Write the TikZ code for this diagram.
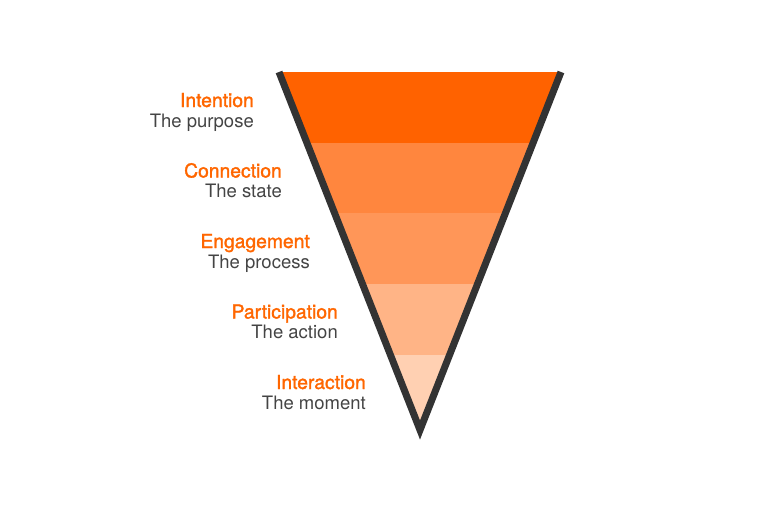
\documentclass[tikz,border=0pt]{standalone}
\usepackage{fontspec}
\setmainfont{TeX Gyre Heros}
\newfontfamily\medfont[FakeBold=1.5]{TeX Gyre Heros}
\definecolor{band1}{RGB}{255,98,0}
\definecolor{band2}{RGB}{255,134,62}
\definecolor{band3}{RGB}{255,150,88}
\definecolor{band4}{RGB}{255,180,134}
\definecolor{band5}{RGB}{255,208,178}
\definecolor{labelorange}{RGB}{255,102,0}
\definecolor{labelgray}{RGB}{68,68,68}
\definecolor{edgegray}{RGB}{51,51,51}
\begin{document}
\begin{tikzpicture}[x=1pt,y=-1pt,
	edge/.style={edgegray, line width=7pt, line join=miter},
	title/.style={labelorange, font=\fontsize{19.3}{20}\medfont, anchor=base east, inner sep=0pt},
	sub/.style={labelgray, font=\fontsize{18.5}{20}\selectfont, anchor=base east, inner sep=0pt}]

	\useasboundingbox (0,0) rectangle (768,506);

	\coordinate (tl) at (279,72);
	\coordinate (tr) at (561,72);
	\coordinate (apex) at (420,430);

	% bands
	\begin{scope}
		\clip (tl) -- (tr) -- (apex) -- cycle;
		\fill[band1] (250,72) rectangle (600,143);
		\fill[band2] (250,143) rectangle (600,213);
		\fill[band3] (250,213) rectangle (600,284);
		\fill[band4] (250,284) rectangle (600,355);
		\fill[band5] (250,355) rectangle (600,440);
	\end{scope}

	\draw[edge] (tl) -- (apex) -- (tr);

	% labels
	\foreach \name/\sub [count=\i from 0] in {Intention/The purpose, Connection/The state, Engagement/The process, Participation/The action, Interaction/The moment}{
		\node[title] (title\i) at (254+28*\i, 107+70.5*\i) {\name};
		\node[sub] (sub\i) at (254+28*\i, 127+70.5*\i) {\sub};
	}

\end{tikzpicture}
\end{document}
